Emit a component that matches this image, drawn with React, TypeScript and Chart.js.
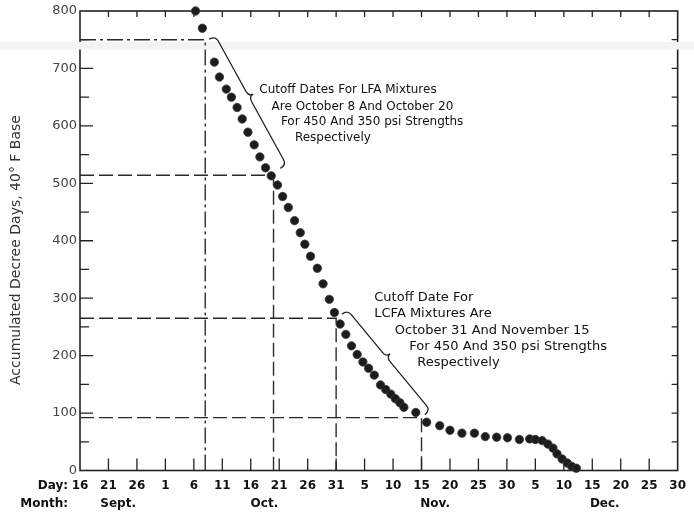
import React, { useEffect, useRef } from 'react';
import { Chart, registerables } from 'chart.js';

Chart.register(...registerables);

// Observations: days counted from September 16, accumulated degree days (40°F base)
const dayOffsets = [
  20.3, 21.5, 23.6, 24.5, 25.7, 26.6, 27.6, 28.5, 29.5, 30.6,
  31.6, 32.6, 33.6, 34.7, 35.6, 36.6, 37.7, 38.7, 39.5, 40.5,
  41.7, 42.7, 43.8, 44.7, 45.7, 46.7, 47.7, 48.7, 49.7, 50.7,
  51.7, 52.8, 53.7, 54.6, 55.4, 56.2, 56.9, 59.0, 60.9, 63.2,
  65.0, 67.1, 69.3, 71.2, 73.2, 75.1, 77.2, 79.0, 80.0, 81.2,
  82.2, 83.1, 83.8, 84.7, 85.6, 86.4, 87.2,
];
const degreeDays = [
  800, 770, 711, 685, 664, 650, 632, 612, 589, 567,
  546, 527, 513, 497, 477, 458, 435, 414, 394, 373,
  352, 325, 298, 275, 255, 237, 217, 202, 189, 178,
  166, 149, 141, 133, 125, 118, 110, 101, 84, 78,
  70, 65, 65, 59, 58, 57, 54, 55, 54, 52,
  46, 39, 29, 20, 13, 7, 4,
];

// Axis labels
const dayTickLabels = [
  '16', '21', '26', '1', '6', '11', '16', '21', '26', '31', '5',
  '10', '15', '20', '25', '30', '5', '10', '15', '20', '25', '30',
];
const monthNames = ['Sept.', 'Oct.', 'Nov.', 'Dec.'];
const monthLabelDays = [6.7, 32.4, 62.4, 92.2];
const yTitle = 'Accumulated Decree Days, 40° F Base';

// Cutoff dates (Oct 8, Oct 20, Oct 31, Nov 15) and the degree-day levels they correspond to
const cutoffDays = [22, 34, 45, 60];
const cutoffValues = [750, 514, 265, 92];

// Notes with their braces
const noteLines = [
  ['Cutoff Dates For LFA Mixtures', 'Are October 8 And October 20', 'For 450 And 350 psi Strengths', 'Respectively'],
  ['Cutoff Date For', 'LCFA Mixtures Are', 'October 31 And November 15', 'For 450 And 350 psi Strengths', 'Respectively'],
];
const noteAnchors = [
  { x: 31.5, y: 663 },
  { x: 51.7, y: 301 },
];
const noteIndents = [
  [[0, 0], [12.3, 16.7], [21.6, 32.4], [35.6, 48.4]],
  [[0, 0], [0, 16], [20.6, 32.7], [35, 49], [43, 65.4]],
];
const braceStarts = [{ x: 22.7, y: 751 }, { x: 46.0, y: 272 }];
const braceEnds = [{ x: 35.2, y: 526 }, { x: 60.6, y: 97 }];

const FONT = '"DejaVu Sans", "Liberation Sans", sans-serif';
const INK = '#222';

function drawBrace(ctx: CanvasRenderingContext2D, S: { x: number; y: number }, E: { x: number; y: number }) {
  const dx = E.x - S.x;
  const dy = E.y - S.y;
  const len = Math.hypot(dx, dy);
  const u = { x: dx / len, y: dy / len };
  const n = { x: -u.y, y: u.x };
  if (n.x < 0) { n.x = -n.x; n.y = -n.y; }
  const w = 7, r = 6, k = 5, tf = 0.47;
  const T = { x: S.x + u.x * len * tf, y: S.y + u.y * len * tf };
  const P = (base: { x: number; y: number }, a: number, b: number) => ({
    x: base.x + u.x * a + n.x * b,
    y: base.y + u.y * a + n.y * b,
  });
  ctx.beginPath();
  ctx.moveTo(S.x, S.y);
  let c = P(S, 0, w), p = P(S, r, w);
  ctx.quadraticCurveTo(c.x, c.y, p.x, p.y);
  p = P(T, -r, w);
  ctx.lineTo(p.x, p.y);
  c = P(T, 0, w); p = P(T, 0, w + k);
  ctx.quadraticCurveTo(c.x, c.y, p.x, p.y);
  c = P(T, 0, w); p = P(T, r, w);
  ctx.quadraticCurveTo(c.x, c.y, p.x, p.y);
  p = P(E, -r, w);
  ctx.lineTo(p.x, p.y);
  c = P(E, 0, w);
  ctx.quadraticCurveTo(c.x, c.y, E.x, E.y);
  ctx.stroke();
}

const framePlugin = {
  id: 'frameAndTicks',
  beforeDatasetsDraw(chart: any) {
    const { ctx, chartArea: a, scales } = chart;
    const xs = scales.x, ys = scales.y;
    ctx.save();
    ctx.strokeStyle = INK;
    ctx.lineWidth = 1.6;
    ctx.strokeRect(a.left, a.top, a.right - a.left, a.bottom - a.top);
    ctx.lineWidth = 1.3;
    ctx.beginPath();
    for (let v = 5; v < 105; v += 5) {
      const px = xs.getPixelForValue(v);
      ctx.moveTo(px, a.bottom);
      ctx.lineTo(px, a.bottom - 12);
      ctx.moveTo(px, a.top);
      ctx.lineTo(px, a.top + 6);
    }
    for (let v = 50; v < 800; v += 50) {
      const py = ys.getPixelForValue(v);
      const major = v % 100 === 0;
      ctx.moveTo(a.left, py);
      ctx.lineTo(a.left + (major ? 13 : 9), py);
      ctx.moveTo(a.right, py);
      ctx.lineTo(a.right - 6, py);
    }
    ctx.stroke();
    // pale band across the sheet
    const b1 = ys.getPixelForValue(746);
    const b2 = ys.getPixelForValue(733);
    ctx.fillStyle = '#f3f3f3';
    ctx.fillRect(0, b1, chart.width, b2 - b1);
    ctx.restore();
  },
  afterDatasetsDraw(chart: any) {
    const { ctx, scales } = chart;
    const xs = scales.x, ys = scales.y;
    const toPx = (p: { x: number; y: number }) => ({ x: xs.getPixelForValue(p.x), y: ys.getPixelForValue(p.y) });
    ctx.save();
    ctx.strokeStyle = INK;
    ctx.lineWidth = 1.3;
    braceStarts.forEach((s, i) => drawBrace(ctx, toPx(s), toPx(braceEnds[i])));
    ctx.fillStyle = '#111';
    ctx.textAlign = 'left';
    ctx.textBaseline = 'middle';
    const sizes = [12, 13];
    noteLines.forEach((lines, i) => {
      const anchor = toPx(noteAnchors[i]);
      ctx.font = `${sizes[i]}px ${FONT}`;
      lines.forEach((t, j) => {
        const [dx, dy] = noteIndents[i][j];
        ctx.fillText(t, anchor.x + dx, anchor.y + dy);
      });
    });
    ctx.restore();
  },
  afterDraw(chart: any) {
    const { ctx, scales, chartArea: a } = chart;
    const xs = scales.x;
    ctx.save();
    ctx.fillStyle = '#111';
    ctx.font = `bold 12px ${FONT}`;
    ctx.textBaseline = 'middle';
    ctx.textAlign = 'right';
    ctx.fillText('Day:', 68, a.bottom + 15);
    ctx.fillText('Month:', 68, a.bottom + 33);
    ctx.textAlign = 'center';
    monthNames.forEach((m, i) => ctx.fillText(m, xs.getPixelForValue(monthLabelDays[i]), a.bottom + 33));
    ctx.translate(16, 250);
    ctx.rotate(-Math.PI / 2);
    ctx.font = `14px ${FONT}`;
    ctx.fillStyle = '#333';
    ctx.fillText(yTitle, 0, 0);
    ctx.restore();
  },
};

export default function App() {
  const ref = useRef<HTMLCanvasElement>(null);

  useEffect(() => {
    const canvas = ref.current;
    if (!canvas) return;
    Chart.defaults.font.family = FONT;

    const cutoffSets = cutoffDays.map((d, i) => ({
      type: 'line' as const,
      data: [
        { x: 0, y: cutoffValues[i] },
        { x: d, y: cutoffValues[i] },
        { x: d, y: 0 },
      ],
      borderColor: '#2a2a2a',
      borderWidth: 1.4,
      borderDash: i === 0 ? [16, 4, 3, 4] : [14, 5],
      pointRadius: 0,
      fill: false,
      tension: 0,
      order: 2,
    }));

    const chart = new Chart(canvas, {
      type: 'scatter',
      data: {
        datasets: [
          {
            type: 'scatter' as const,
            data: dayOffsets.map((d, i) => ({ x: d, y: degreeDays[i] })),
            backgroundColor: '#1c1c1c',
            borderColor: '#3a3a3a',
            borderWidth: 0.8,
            pointRadius: 4.2,
            clip: false as any,
            order: 0,
          },
          ...cutoffSets,
        ] as any,
      },
      options: {
        responsive: false,
        animation: false,
        layout: { padding: { top: 11, right: 11, left: 0, bottom: 0 } },
        plugins: { legend: { display: false }, tooltip: { enabled: false } },
        scales: {
          x: {
            type: 'linear',
            min: 0,
            max: 105,
            grid: { display: false, drawTicks: false },
            border: { display: false },
            ticks: {
              stepSize: 5,
              autoSkip: false,
              maxRotation: 0,
              padding: 8,
              color: '#111',
              font: { size: 12, weight: 'bold' },
              callback: (v: any) => dayTickLabels[Math.round(Number(v) / 5)] ?? '',
            },
            afterFit: (s: any) => { s.height = 41.5; },
          },
          y: {
            min: 0,
            max: 800,
            grid: { display: false, drawTicks: false },
            border: { display: false },
            ticks: { stepSize: 100, padding: 3, color: '#444', font: { size: 13 } },
            afterFit: (s: any) => { s.width = 80; },
          },
        },
      },
      plugins: [framePlugin],
    });

    return () => chart.destroy();
  }, []);

  return (
    <div style={{ position: 'absolute', left: 0, top: 0, width: 694, height: 512, background: '#fff' }}>
      <canvas ref={ref} width={694} height={512} style={{ display: 'block', width: 694, height: 512 }} />
    </div>
  );
}
